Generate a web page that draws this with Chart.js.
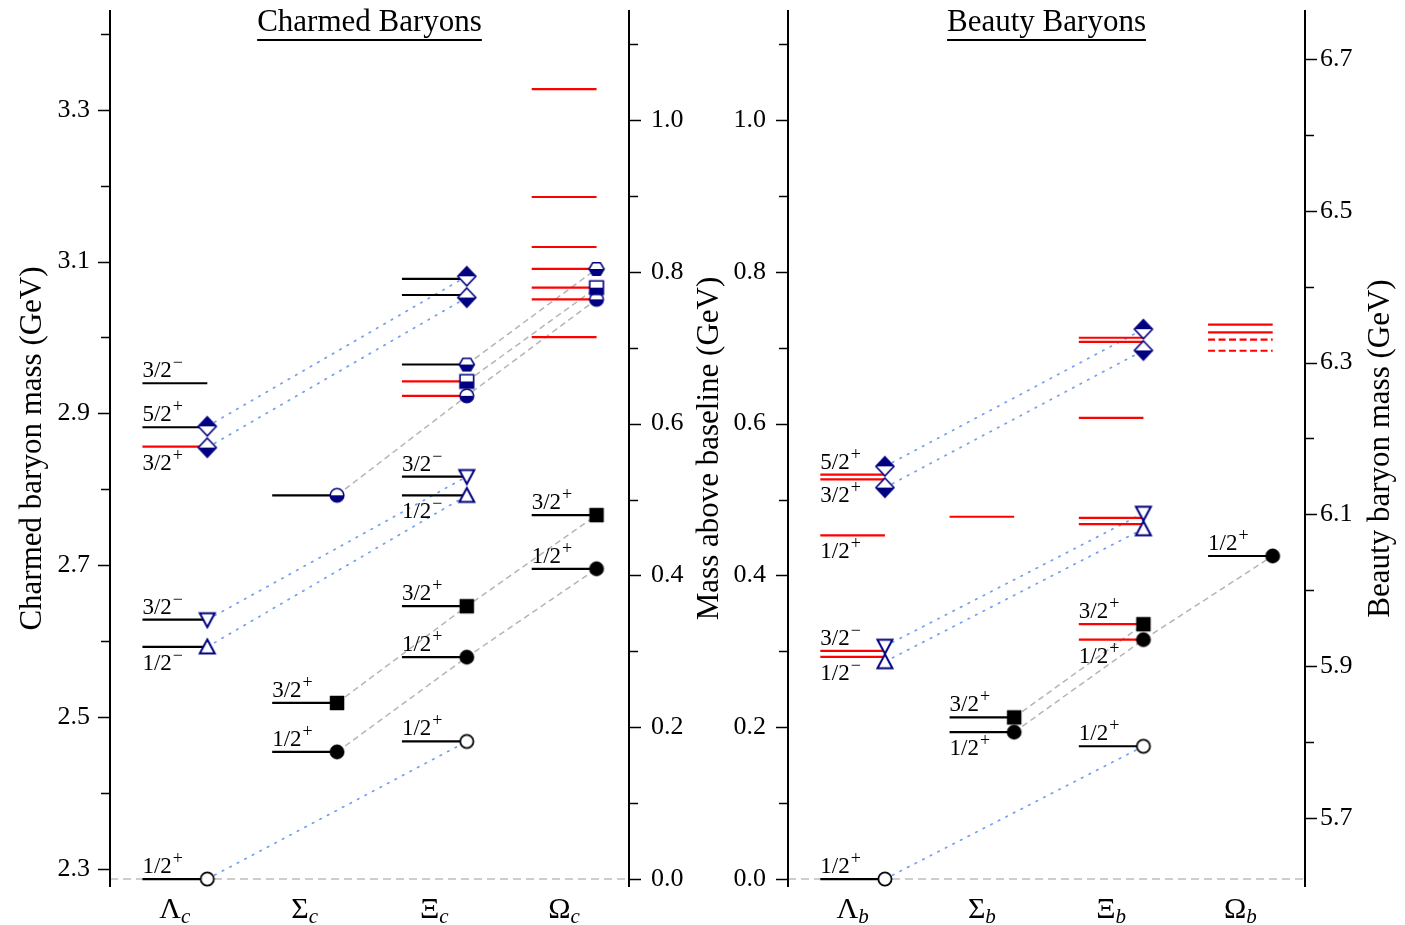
<!DOCTYPE html>
<html><head><meta charset="utf-8">
<script src="https://cdn.jsdelivr.net/npm/chart.js@4.4.1/dist/chart.umd.min.js"></script>
<style>
html,body{margin:0;padding:0;background:#fff;}
#wrap{position:relative;width:1405px;height:925px;overflow:hidden;background:#fff;}
canvas{position:absolute;top:0;}
#c1{left:0;} #c2{left:680px;}
</style></head><body>
<div id="wrap"><canvas id="c1" width="700" height="925"></canvas><canvas id="c2" width="725" height="925"></canvas></div>
<script>
// ================= DATA =================
const charmTitle = 'Charmed Baryons';
const beautyTitle = 'Beauty Baryons';
const charmAxisTitle = 'Charmed baryon mass (GeV)';
const offsetAxisTitle = 'Mass above baseline (GeV)';
const beautyAxisTitle = 'Beauty baryon mass (GeV)';

const charmCategories = ['Λ','Σ','Ξ','Ω'];
const charmSubscript = 'c';
const beautyCategories = ['Λ','Σ','Ξ','Ω'];
const beautySubscript = 'b';

// charmed levels (GeV)
const charmCat = [0,0,0,0,0,0, 1,1,1, 2,2,2,2,2,2,2,2,2,2, 3,3,3,3,3,3,3,3,3];
const charmMass = [2.28646,2.59225,2.62811,2.8561,2.88163,2.9396,
  2.45397,2.51841,2.792,
  2.46771,2.5788,2.6459,2.7919,2.8167,2.923,2.942,2.9643,3.0559,3.0772,
  2.6952,2.7659,3.0004,3.0502,3.0656,3.0902,3.1191,3.185,3.3271];
const charmJP = ['1/2+','1/2-','3/2-','3/2+','5/2+','3/2-',
  '1/2+','3/2+','',
  '1/2+','1/2+','3/2+','1/2-','3/2-','','','','','',
  '1/2+','3/2+','','','','','','',''];
const charmStatus = ['est','est','est','obs','est','est',
  'est','est','est',
  'est','est','est','est','est','obs','obs','est','est','est',
  'est','est','obs','obs','obs','obs','obs','obs','obs'];
const charmFamily = ['g0','p12','p32','d32','d52','',
  's12','s32','hc',
  'g0','s12','s32','p12','p32','hc','hs','hh','d32','d52',
  's12','s32','','hc','hs','hh','','',''];

// beauty levels (GeV)
const beautyCat = [0,0,0,0,0,0, 1,1,1, 2,2,2,2,2,2,2,2, 3,3,3,3,3];
const beautyMass = [5.6196,5.91215,5.92006,6.0723,6.14602,6.15251,
  5.8131,5.8325,6.0969,
  5.7945,5.935,5.9553,6.0872,6.0954,6.2271,6.3273,6.3327,
  6.0452,6.3156,6.3303,6.3397,6.3499];
const beautyJP = ['1/2+','1/2-','3/2-','1/2+','3/2+','5/2+',
  '1/2+','3/2+','',
  '1/2+','1/2+','3/2+','','','','','',
  '1/2+','','','',''];
const beautyStatus = ['est','obs','obs','obs','obs','obs',
  'est','est','obs',
  'est','obs','obs','obs','obs','obs','obs','obs',
  'est','ev','ev','obs','obs'];
const beautyFamily = ['g0','p12','p32','','d32','d52',
  's12','s32','',
  'g0','s12','s32','p12','p32','','d32','d52',
  's12','','','',''];

// tick values / labels
const charmMassMajor = [2.3,2.5,2.7,2.9,3.1,3.3];
const charmMassLabels = ['2.3','2.5','2.7','2.9','3.1','3.3'];
const charmMassMinor = [2.4,2.6,2.8,3.0,3.2,3.4];
const offsetMajor = [0.0,0.2,0.4,0.6,0.8,1.0];
const offsetLabels = ['0.0','0.2','0.4','0.6','0.8','1.0'];
const offsetMinor = [0.1,0.3,0.5,0.7,0.9,1.1];
const beautyMassMajor = [5.7,5.9,6.1,6.3,6.5,6.7];
const beautyMassLabels = ['5.7','5.9','6.1','6.3','6.5','6.7'];
const beautyMassMinor = [5.8,6.0,6.2,6.4,6.6];

// ================= LAYOUT / STYLE =================
const charmLabelSide = ['a','b','a','b','a','a', 'a','a','', 'a','a','a','b','a','','','','','', 'a','a','','','','','','',''];
const beautyLabelSide = ['a','b','a','b','b','a', 'b','a','', 'a','b','a','','','','','', 'a','','','',''];
const OFF_MIN = -0.0105, OFF_MAX = 1.1449;
const NAVY = '#000080';
const SERIF = '"Liberation Serif", "DejaVu Serif", serif';
const shapeOf = {g0:'circleOpen', s12:'circleFilled', s32:'squareFilled', p12:'triUp', p32:'triDown',
  d32:'diamondBottom', d52:'diamondTop', hc:'circleHalf', hs:'squareHalf', hh:'hexHalf'};
const connStyle = {g0:'dot', p12:'dot', p32:'dot', d32:'dot', d52:'dot', s12:'dash', s32:'dash', hc:'dash', hs:'dash', hh:'dash'};
const dodgePairs = [['p12','p32',0.0205],['d32','d52',0.028]];

function markerCanvas(kind){
  const S = 26, c = document.createElement('canvas'); c.width = S; c.height = S;
  const g = c.getContext('2d'); g.translate(S/2, S/2);
  const p = new Path2D();
  let edge = NAVY, fillAll = null, half = null, lw = 1.6;
  switch(kind){
    case 'circleOpen': p.arc(0,0,6.6,0,Math.PI*2); edge='#000'; fillAll='#fff'; lw=1.8; break;
    case 'circleFilled': p.arc(0,0,7.2,0,Math.PI*2); edge='#000'; fillAll='#000'; lw=0.5; break;
    case 'squareFilled': p.rect(-7,-7,14,14); edge='#000'; fillAll='#000'; lw=0.5; break;
    case 'triUp': p.moveTo(0,-7.5); p.lineTo(7.5,6.5); p.lineTo(-7.5,6.5); p.closePath(); fillAll='#fff'; lw=2; break;
    case 'triDown': p.moveTo(0,7.5); p.lineTo(7.5,-6.5); p.lineTo(-7.5,-6.5); p.closePath(); fillAll='#fff'; lw=2; break;
    case 'diamondTop': p.moveTo(0,-9.5); p.lineTo(9,0); p.lineTo(0,9.5); p.lineTo(-9,0); p.closePath(); fillAll='#fff'; half='top'; break;
    case 'diamondBottom': p.moveTo(0,-9.5); p.lineTo(9,0); p.lineTo(0,9.5); p.lineTo(-9,0); p.closePath(); fillAll='#fff'; half='bottom'; break;
    case 'circleHalf': p.arc(0,0,6.8,0,Math.PI*2); fillAll='#fff'; half='bottom'; break;
    case 'squareHalf': p.rect(-6.8,-6.8,13.6,13.6); fillAll='#fff'; half='bottom'; break;
    case 'hexHalf': p.moveTo(-7.5,0); p.lineTo(-3.8,-6.3); p.lineTo(3.8,-6.3); p.lineTo(7.5,0); p.lineTo(3.8,6.3); p.lineTo(-3.8,6.3); p.closePath(); fillAll='#fff'; half='bottom'; break;
  }
  if (fillAll){ g.fillStyle = fillAll; g.fill(p); }
  if (half){ g.save(); g.beginPath(); if (half==='bottom') g.rect(-S/2,0,S,S/2); else g.rect(-S/2,-S/2,S,S/2); g.clip(); g.fillStyle=NAVY; g.fill(p); g.restore(); }
  g.strokeStyle = edge; g.lineWidth = lw; g.lineJoin='miter'; g.stroke(p);
  return c;
}
const markerImg = {};
Object.values(shapeOf).forEach(k => markerImg[k] = markerCanvas(k));

function markerY(cat, mass, fam){
  const y = mass.slice();
  for (const [a,b,gap] of dodgePairs){
    for (let c=0;c<4;c++){
      const i = fam.findIndex((f,k)=>f===a && cat[k]===c);
      const j = fam.findIndex((f,k)=>f===b && cat[k]===c);
      if (i<0 || j<0) continue;
      if (Math.abs(mass[j]-mass[i]) < gap){
        const mid = (mass[i]+mass[j])/2;
        const lo = mass[i] < mass[j] ? i : j, hi = lo===i ? j : i;
        y[lo] = mid - gap/2; y[hi] = mid + gap/2;
      }
    }
  }
  return y;
}

function buildDatasets(cat, mass, status, fam, yId){
  const ds = [];
  const base = mass[0];
  ds.push({data:[{x:-0.5,y:base},{x:3.5,y:base}], showLine:true, borderColor:'#bdbdbd', borderWidth:1.6,
    borderDash:[8,5], pointRadius:0, order:3, yAxisID:yId});
  const my = markerY(cat, mass, fam);
  const fams = [...new Set(fam.filter(f=>f))];
  fams.forEach(f=>{
    const idx = fam.map((v,k)=>v===f?k:-1).filter(k=>k>=0).sort((p,q)=>cat[p]-cat[q]);
    if (idx.length<2) return;
    const dot = connStyle[f]==='dot';
    ds.push({data: idx.map(k=>({x:cat[k]+0.25, y:my[k]})), showLine:true, pointRadius:0, order:2, yAxisID:yId,
      borderColor: dot ? 'rgba(100,149,237,0.9)' : '#b5b5b5', borderWidth: dot ? 1.7 : 1.5,
      borderDash: dot ? [1.5,7] : [6,4], borderCapStyle: dot ? 'round' : 'butt'});
  });
  mass.forEach((m,k)=>{
    const red = status[k] !== 'est';
    ds.push({data:[{x:cat[k]-0.25,y:m},{x:cat[k]+0.25,y:m}], showLine:true, pointRadius:0, order:1, yAxisID:yId,
      borderColor: red ? '#ff0000' : '#000000', borderWidth:2.2, borderDash: status[k]==='ev' ? [7,3.5] : []});
  });
  const mk = [], st = [];
  fam.forEach((f,k)=>{ if (!f) return; mk.push({x:cat[k]+0.25, y:my[k]}); st.push(markerImg[shapeOf[f]]); });
  ds.push({data:mk, showLine:false, pointStyle:st, pointRadius:6, order:0, yAxisID:yId});
  return ds;
}

function drawJP(ctx, txt, x, y){
  const main = txt.slice(0,-1), sgn = txt.slice(-1)==='+' ? '+' : '\u2212';
  ctx.font = '23px ' + SERIF; ctx.textAlign='left'; ctx.textBaseline='alphabetic';
  ctx.fillText(main, x, y);
  const w = ctx.measureText(main).width;
  ctx.font = '18px ' + SERIF;
  ctx.fillText(sgn, x + w + 1, y - 9);
}

function decoPlugin(cfg){
  return { id:'deco', afterDraw(chart){
    const ctx = chart.ctx, a = chart.chartArea, xs = chart.scales.x;
    ctx.save();
    ctx.fillStyle = '#000'; ctx.strokeStyle = '#000';
    // spines and ticks
    cfg.axes.forEach(ax=>{
      const sc = chart.scales[ax.id];
      const sx = ax.side==='left' ? a.left : a.right, dir = ax.side==='left' ? -1 : 1;
      ctx.lineWidth = 2; ctx.beginPath(); ctx.moveTo(sx, a.top); ctx.lineTo(sx, a.bottom); ctx.stroke();
      ctx.lineWidth = 1.5;
      ax.major.forEach(v=>{ const y = Math.round(sc.getPixelForValue(v))+0.5; ctx.beginPath(); ctx.moveTo(sx,y); ctx.lineTo(sx+dir*12,y); ctx.stroke(); });
      ax.minor.forEach(v=>{ const y = Math.round(sc.getPixelForValue(v))+0.5; ctx.beginPath(); ctx.moveTo(sx,y); ctx.lineTo(sx+dir*9,y); ctx.stroke(); });
    });
    // level labels
    const ys = chart.scales[cfg.dataAxis];
    cfg.mass.forEach((m,k)=>{
      if (!cfg.jp[k]) return;
      const x = xs.getPixelForValue(cfg.cat[k]-0.25), y = ys.getPixelForValue(m);
      drawJP(ctx, cfg.jp[k], x, cfg.side[k]==='b' ? y + 23 : y - 6);
    });
    // category labels
    cfg.categories.forEach((c,i)=>{
      const x = xs.getPixelForValue(i);
      ctx.font = '30px ' + SERIF; const w1 = ctx.measureText(c).width;
      ctx.font = 'italic 21px ' + SERIF; const w2 = ctx.measureText(cfg.sub).width;
      const x0 = x - (w1+w2)/2;
      ctx.textAlign='left'; ctx.textBaseline='alphabetic';
      ctx.font = '30px ' + SERIF; ctx.fillText(c, x0, 918);
      ctx.font = 'italic 21px ' + SERIF; ctx.fillText(cfg.sub, x0 + w1, 923);
    });
    // panel title with underline
    ctx.font = '31px ' + SERIF; ctx.textAlign='center'; ctx.textBaseline='alphabetic';
    const cx = (a.left + a.right)/2;
    ctx.fillText(cfg.title, cx, 31);
    const tw = ctx.measureText(cfg.title).width;
    ctx.lineWidth = 2; ctx.beginPath(); ctx.moveTo(cx - tw/2, 40); ctx.lineTo(cx + tw/2, 40); ctx.stroke();
    // axis titles
    cfg.axisTitles.forEach(t=>{
      ctx.save(); ctx.translate(t.x, (a.top + a.bottom)/2); ctx.rotate(-Math.PI/2);
      ctx.font = '31px ' + SERIF; ctx.textAlign='center'; ctx.textBaseline='middle';
      ctx.fillText(t.text, 0, 0); ctx.restore();
    });
    ctx.restore();
  }};
}

function yAxis(pos, min, max, major, labels, width, pad){
  return { type:'linear', position:pos, min:min, max:max,
    grid:{display:false, drawTicks:false}, border:{display:false},
    afterBuildTicks: s => { s.ticks = major.map(v=>({value:v})); },
    afterFit: s => { s.width = width; s.paddingTop = 0; s.paddingBottom = 0; },
    ticks:{ autoSkip:false, padding:pad, color:'#000', font:{family:SERIF, size:26},
      callback:(v,i)=>labels[i] } };
}

function makeChart(id, datasets, scales, plugin){
  return new Chart(document.getElementById(id), {
    type:'scatter', data:{datasets},
    options:{ responsive:false, animation:false, events:[], devicePixelRatio:1,
      layout:{padding:{top:10, bottom:38, left:0, right:0}},
      plugins:{legend:{display:false}, tooltip:{enabled:false}},
      elements:{line:{tension:0}},
      scales: Object.assign({ x:{type:'linear', min:-0.5, max:3.5, display:false} }, scales) },
    plugins:[plugin] });
}

const charmBase = charmMass[0], beautyBase = beautyMass[0];

makeChart('c1', buildDatasets(charmCat, charmMass, charmStatus, charmFamily, 'yL'), {
  yL: yAxis('left', charmBase+OFF_MIN, charmBase+OFF_MAX, charmMassMajor, charmMassLabels, 110, 20),
  yR: yAxis('right', OFF_MIN, OFF_MAX, offsetMajor, offsetLabels, 71, 22)
}, decoPlugin({ axes:[{id:'yL',side:'left',major:charmMassMajor,minor:charmMassMinor},{id:'yR',side:'right',major:offsetMajor,minor:offsetMinor}],
  dataAxis:'yL', mass:charmMass, jp:charmJP, cat:charmCat, side:charmLabelSide,
  categories:charmCategories, sub:charmSubscript, title:charmTitle,
  axisTitles:[{text:charmAxisTitle, x:33}] }));

makeChart('c2', buildDatasets(beautyCat, beautyMass, beautyStatus, beautyFamily, 'yR'), {
  yL: yAxis('left', OFF_MIN, OFF_MAX, offsetMajor, offsetLabels, 108, 22),
  yR: yAxis('right', beautyBase+OFF_MIN, beautyBase+OFF_MAX, beautyMassMajor, beautyMassLabels, 100, 15)
}, decoPlugin({ axes:[{id:'yL',side:'left',major:offsetMajor,minor:offsetMinor},{id:'yR',side:'right',major:beautyMassMajor,minor:beautyMassMinor}],
  dataAxis:'yR', mass:beautyMass, jp:beautyJP, cat:beautyCat, side:beautyLabelSide,
  categories:beautyCategories, sub:beautySubscript, title:beautyTitle,
  axisTitles:[{text:offsetAxisTitle, x:30},{text:beautyAxisTitle, x:701}] }));
</script>
</body></html>
